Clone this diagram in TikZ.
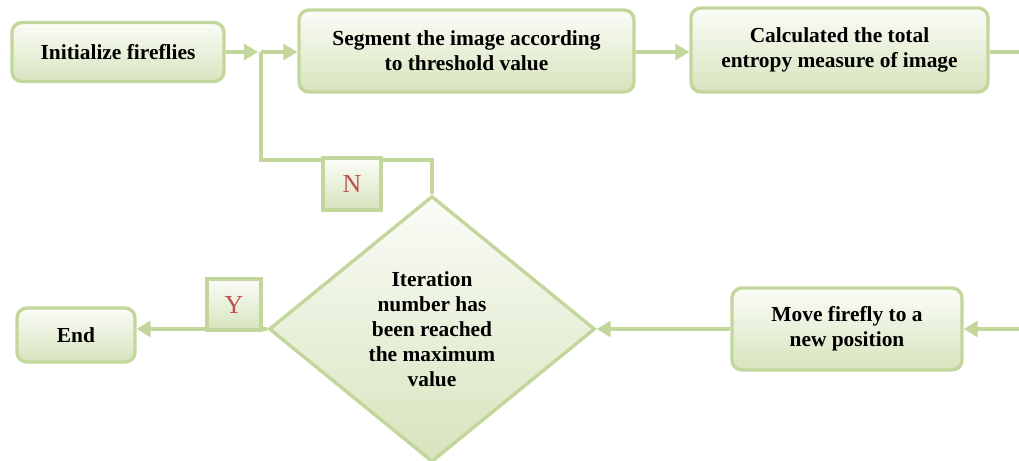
\documentclass[tikz,border=0pt]{standalone}
\usepackage{fontspec}
\setmainfont{Liberation Serif}
\usetikzlibrary{shapes.geometric,arrows.meta}
\definecolor{bord}{HTML}{C3D69B}
\definecolor{fillbot}{HTML}{D7E4BD}
\definecolor{filltop}{HTML}{FBFCF8}
\definecolor{ynred}{HTML}{C0504D}
\begin{document}
\begin{tikzpicture}[x=0.5pt,y=-0.5pt,
 box/.style={draw=bord, line width=1.7pt, rounded corners=5pt, top color=filltop, bottom color=fillbot, align=center, font=\fontsize{10.7}{12.5}\selectfont\bfseries, inner sep=0pt},
 lab/.style={draw=bord, line width=1.7pt, top color=filltop, bottom color=fillbot, text=ynred, font=\fontsize{13}{15}\selectfont, inner sep=0pt},
 conn/.style={draw=bord, line width=1.6pt},
 arr/.style={conn, -{Triangle[length=7pt,width=8pt]}},
]
\useasboundingbox (0,0) rectangle (1019,461);
\node[box, minimum width=106pt, minimum height=29.5pt] (init) at (118,52) {Initialize fireflies};
\node[box, minimum width=167.5pt, minimum height=41pt] (seg) at (466.5,51) {Segment the image according\\to threshold value};
\node[box, minimum width=148.5pt, minimum height=42pt] (calc) at (839.5,50) {Calculated the total\\entropy measure of image};
\node[box, minimum width=59pt, minimum height=27pt] (end) at (76,335) {End};
\node[box, minimum width=115pt, minimum height=41pt] (move) at (847,329) {Move firefly to a\\new position};
\node[diamond, draw=bord, line width=1.7pt, top color=filltop, bottom color=fillbot, minimum width=163pt, minimum height=133pt, inner sep=0pt, align=center, font=\fontsize{10.7}{12.5}\selectfont\bfseries] (dec) at (432,329) {Iteration\\number has\\been reached\\the maximum\\value};

\coordinate (j) at (261,52);
\coordinate (nr) at (432,160);
\coordinate (nl) at (261,160);
\coordinate (outR) at (1019,52);
\coordinate (inR) at (1019,329);

\draw[arr, shorten >=1.5pt] (init.east) -- (j);
\draw[arr] (j) -- (j -| seg.west);
\draw[arr] (seg.east |- j) -- (j -| calc.west);
\draw[conn] (calc.east |- outR) -- (outR);
\draw[arr] (inR) -- (inR -| move.east);
\draw[arr] (move.west) -- (dec.east);
\draw[arr] (dec.west) -- (dec.west -| end.east);
\draw[conn] (dec.north) -- (nr) -- (nl) -- (j);

\node[lab, minimum width=27pt, minimum height=25.5pt] (y) at (234,304.5) {Y};
\node[lab, minimum width=29pt, minimum height=26pt] (n) at (352,184) {N};
\end{tikzpicture}
\end{document}
